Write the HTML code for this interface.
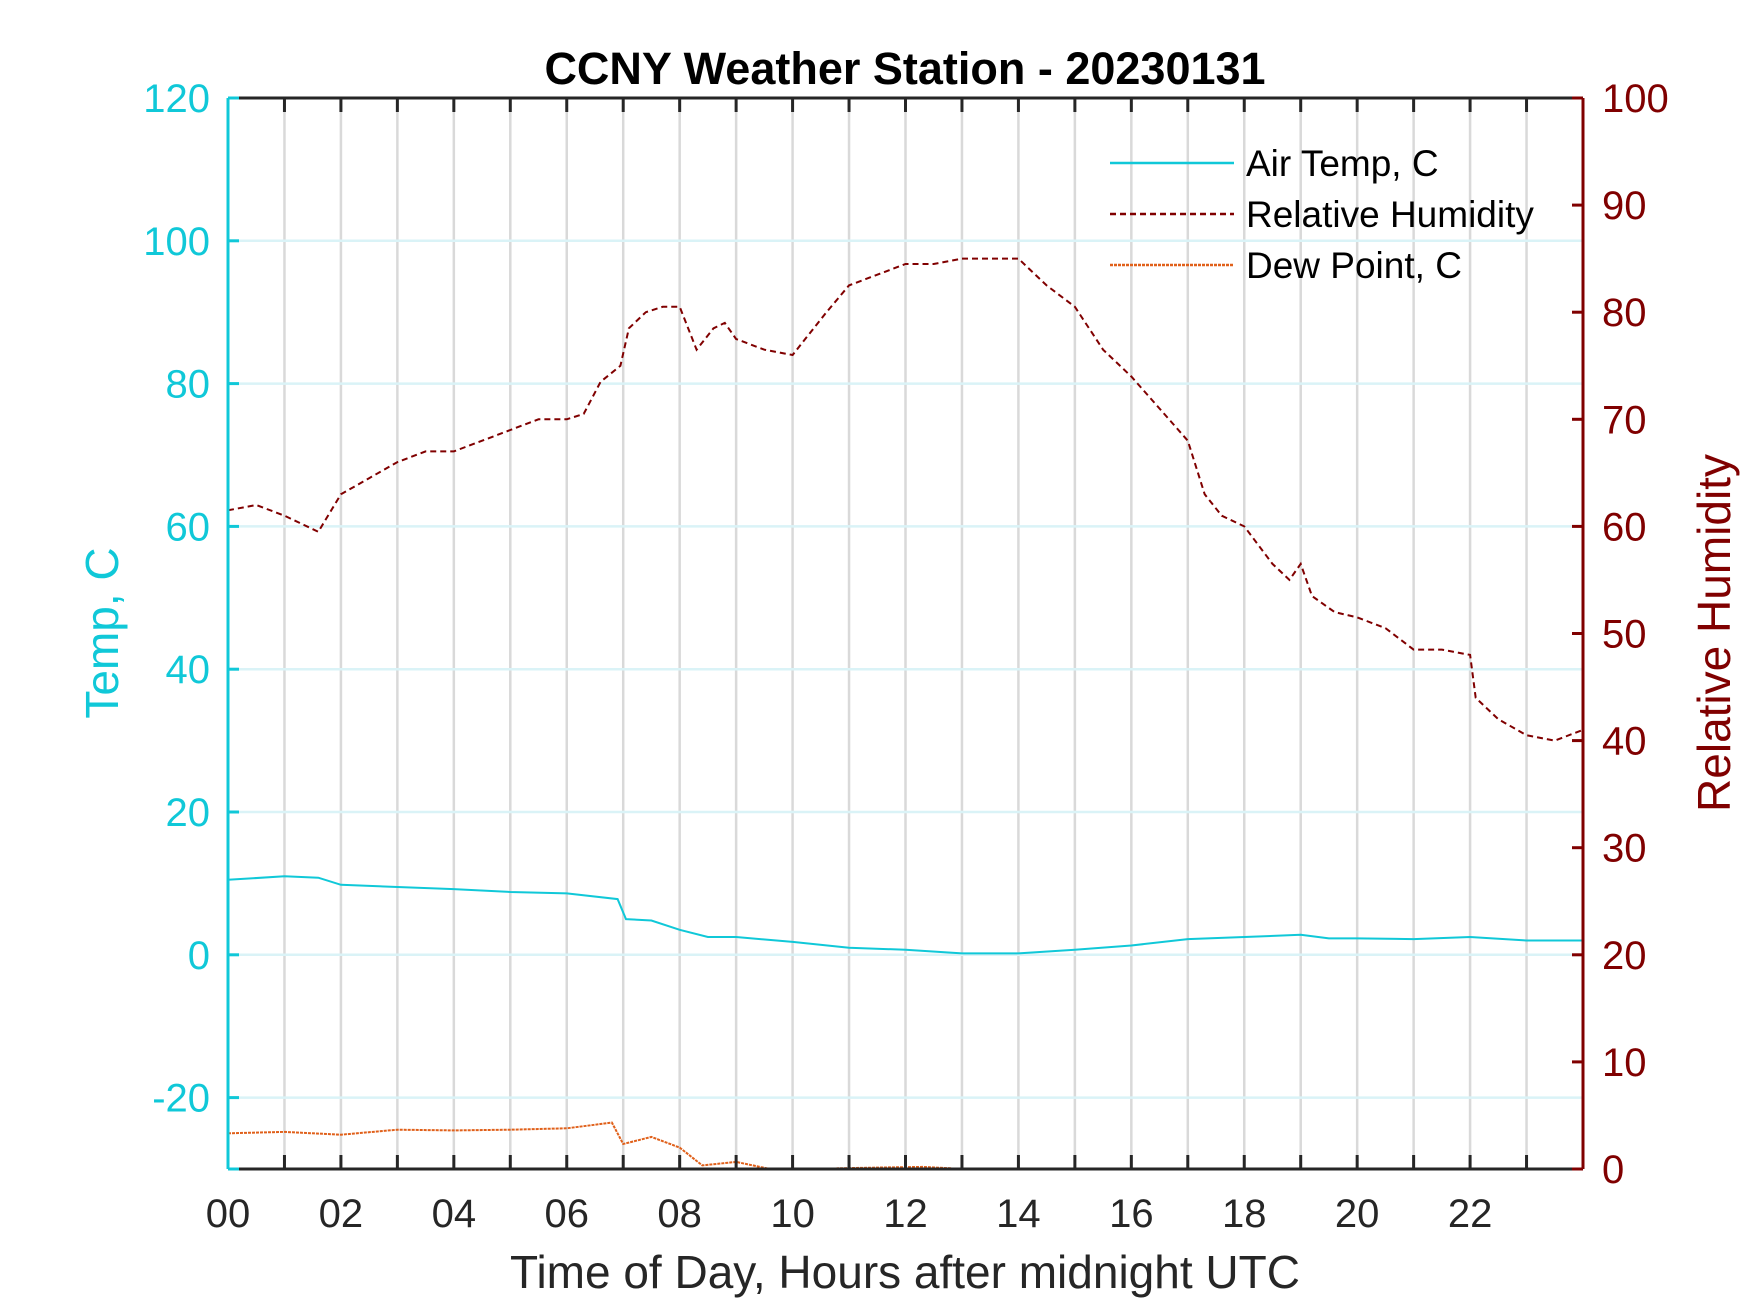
<!DOCTYPE html>
<html><head><meta charset="utf-8"><style>
body{margin:0;background:#fff}
svg{display:block;font-family:"Liberation Sans",Arial,sans-serif}
</style></head><body>
<svg id="c" width="1750" height="1313" xmlns="http://www.w3.org/2000/svg">
<text x="905" y="84" text-anchor="middle" font-size="45" font-weight="bold" fill="#000">CCNY Weather Station - 20230131</text>
<text transform="translate(118,633) rotate(-90)" text-anchor="middle" font-size="46" fill="#10c8d8">Temp, C</text>
<text transform="translate(1730,633) rotate(-90)" text-anchor="middle" font-size="46" fill="#800000">Relative Humidity</text>
<text x="905" y="1288" text-anchor="middle" font-size="46" fill="#262626">Time of Day, Hours after midnight UTC</text>
</svg>
<script>
const rhHours=[0,0.5,1,1.6,2,2.5,3,3.5,4,4.5,5,5.5,6,6.3,6.6,6.95,7.1,7.4,7.7,8,8.3,8.6,8.8,9,9.5,10,10.3,10.6,11,11.5,12,12.5,13,13.5,14,14.5,15,15.5,16,16.5,17,17.3,17.6,18,18.5,18.8,19,19.2,19.6,20,20.5,21,21.5,22,22.1,22.5,23,23.5,24];
const rhValues=[61.5,62,61,59.5,63,64.5,66,67,67,68,69,70,70,70.5,73.5,75,78.5,80,80.5,80.5,76.5,78.5,79,77.5,76.5,76,78,80,82.5,83.5,84.5,84.5,85,85,85,82.5,80.5,76.5,74,71,68,63,61,60,56.5,55,56.5,53.5,52,51.5,50.5,48.5,48.5,48,44,42,40.5,40,41];
const tempHours=[0,1,1.6,2,3,4,5,6,6.9,7.05,7.5,8,8.5,9,10,11,12,13,14,15,16,17,18,19,19.5,20,21,22,23,24];
const tempValues=[10.5,11,10.8,9.8,9.5,9.2,8.8,8.6,7.8,5,4.8,3.5,2.5,2.5,1.8,1,0.7,0.2,0.2,0.7,1.3,2.2,2.5,2.8,2.3,2.3,2.2,2.5,2,2];
const dewHours=[0,1,2,3,4,5,6,6.8,7,7.5,8,8.4,9,9.6,10,10.8,11.5,12.3,12.8,13.2,14,24];
const dewValues=[-25,-24.8,-25.2,-24.5,-24.6,-24.5,-24.3,-23.5,-26.5,-25.5,-27,-29.5,-29,-30,-30.5,-29.9,-29.8,-29.7,-29.9,-31,-33,-33];
const leftTicks=[-20,0,20,40,60,80,100,120];
const rightTicks=[0,10,20,30,40,50,60,70,80,90,100];
const xTickLabels=["00","02","04","06","08","10","12","14","16","18","20","22"];

const L=228,R=1583,T=98,B=1169;
const X=h=>L+(h/24)*(R-L);
const YL=v=>B-(v+30)/150*(B-T);
const YR=v=>B-v/100*(B-T);
const svg=document.getElementById('c');
const NS='http://www.w3.org/2000/svg';
function mk(tag,attrs,parent){const e=document.createElementNS(NS,tag);for(const k in attrs)e.setAttribute(k,attrs[k]);(parent||svg).appendChild(e);return e;}

const defs=mk('defs',{});
const cp=mk('clipPath',{id:'plotclip'},defs);
mk('rect',{x:L,y:T,width:R-L,height:B-T},cp);

for(let h=1;h<24;h++){
  const g=mk('line',{x1:X(h),x2:X(h),y1:T,y2:B,stroke:'#d9d9d9','stroke-width':2.5});
  
  
}
leftTicks.forEach(v=>{
  const g=mk('line',{x1:L,x2:R,y1:YL(v),y2:YL(v),stroke:'#daf3f7','stroke-width':2.5});
  
  
});

function series(hs,vs,yf,color,dash,width,name){
  const d=hs.map((h,i)=>(i?'L':'M')+X(h).toFixed(1)+','+yf(vs[i]).toFixed(1)).join(' ');
  const p=mk('path',{d:d,fill:'none',stroke:color,'stroke-width':width,'stroke-dasharray':dash,'clip-path':'url(#plotclip)'});
  
  
}
series(tempHours,tempValues,YL,'#10c8d8','none',2,'air-temp-line');
series(rhHours,rhValues,YR,'#800000','6 4',2,'relative-humidity-line');
series(dewHours,dewValues,YL,'#e0601a','3 1',2,'dew-point-line');

mk('line',{x1:L,x2:R,y1:T,y2:T,stroke:'#262626','stroke-width':3});
mk('line',{x1:L,x2:R,y1:B,y2:B,stroke:'#262626','stroke-width':3});
const la=mk('line',{x1:L,x2:L,y1:T,y2:B,stroke:'#10c8d8','stroke-width':3});


const ra=mk('line',{x1:R,x2:R,y1:T,y2:B,stroke:'#800000','stroke-width':3});



for(let h=1;h<24;h++){
  mk('line',{x1:X(h),x2:X(h),y1:B,y2:B-14,stroke:'#262626','stroke-width':3});
  mk('line',{x1:X(h),x2:X(h),y1:T,y2:T+14,stroke:'#262626','stroke-width':3});
}
xTickLabels.forEach((s,i)=>{
  const t=mk('text',{x:X(i*2),y:1227,'text-anchor':'middle','font-size':40,fill:'#262626'});
  t.textContent=s;
  
  
});
leftTicks.concat([-30]).forEach(v=>{
  mk('line',{x1:L,x2:L+11,y1:YL(v),y2:YL(v),stroke:'#10c8d8','stroke-width':3});
});
leftTicks.forEach(v=>{
  const t=mk('text',{x:210,y:YL(v)+14,'text-anchor':'end','font-size':40,fill:'#10c8d8'});
  t.textContent=v;
  
  
});
rightTicks.forEach(v=>{
  mk('line',{x1:R,x2:R-11,y1:YR(v),y2:YR(v),stroke:'#800000','stroke-width':3});
  const t=mk('text',{x:1602,y:YR(v)+14,'font-size':40,fill:'#800000'});
  t.textContent=v;
  
  
});

const leg=[['Air Temp, C','#10c8d8','none'],['Relative Humidity','#800000','6 4'],['Dew Point, C','#e0601a','3 1']];
leg.forEach((e,i)=>{
  const y=163+i*51;
  const l=mk('line',{x1:1110,x2:1234,y1:y,y2:y,stroke:e[1],'stroke-width':2.5,'stroke-dasharray':e[2]});
  
  
  const t=mk('text',{x:1246,y:y+13,'font-size':37,fill:'#000'});
  t.textContent=e[0];
  
  
});
</script>
</body></html>
